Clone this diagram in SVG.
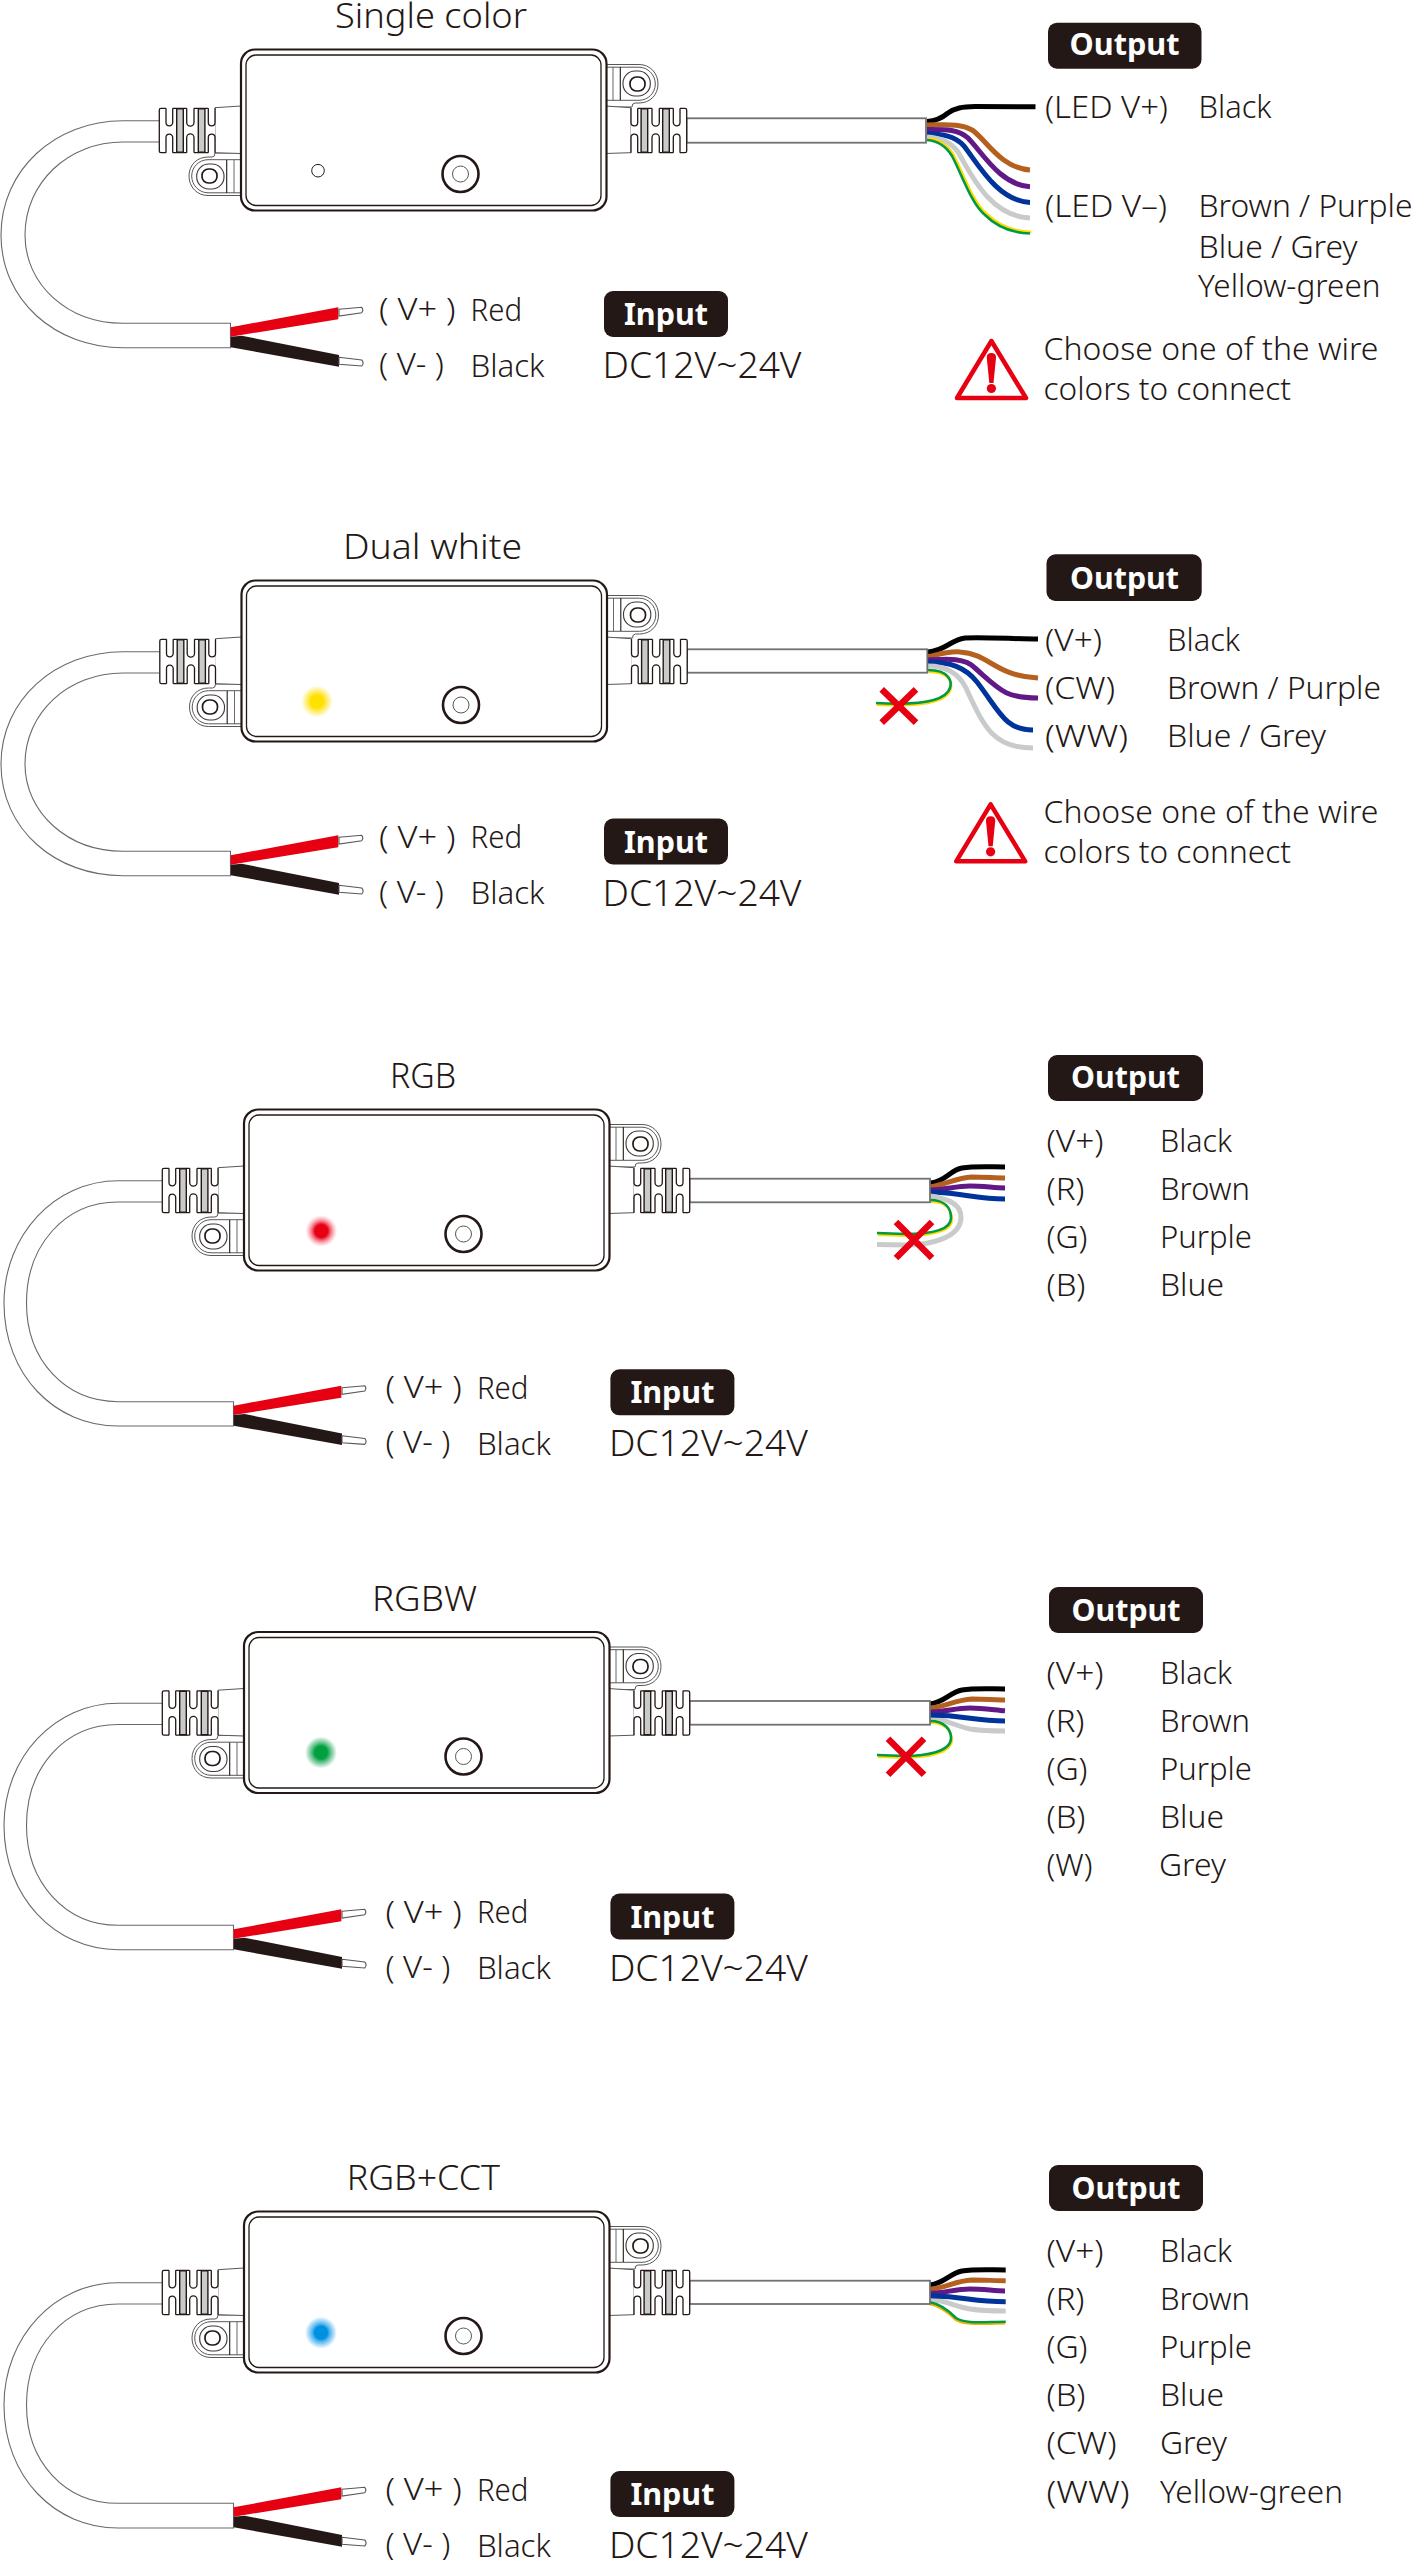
<svg xmlns="http://www.w3.org/2000/svg" xmlns:xlink="http://www.w3.org/1999/xlink" width="1413" height="2560" viewBox="0 0 1413 2560">
<style>
text{font-family:"Noto Sans","Open Sans","Liberation Sans",sans-serif;font-weight:300;fill:#231815;font-size:31px}
.title{font-size:34px}
.dc{font-size:36px}
.badge{fill:#231815}
.bt{font-weight:700;fill:#fff;font-size:31px}
.cable{fill:#fff;stroke:#6a6a6a;stroke-width:1.1}
.rc{fill:#fff;stroke:#727171;stroke-width:1.8}
.w{fill:none;stroke-width:5}
.th{fill:none;stroke-width:2.6}
.k{stroke:#000}.br{stroke:#b5601f}.pu{stroke:#601986}.bl{stroke:#00349b}.gr{stroke:#c9caca}.gn{stroke:#009944}.ye{stroke:#ffd900}
.x{fill:none;stroke:#e60012;stroke-width:6.5}
.o{fill:none;stroke:#231815;stroke-width:1.3}
.l{fill:none;stroke:#595757;stroke-width:1}
</style>
<defs>
<radialGradient id="gRed"><stop offset="0.4" stop-color="#e60012"/><stop offset="0.55" stop-color="#f2566a"/><stop offset="1" stop-color="#f8a0a8" stop-opacity="0"/></radialGradient>
<radialGradient id="gYel"><stop offset="0.4" stop-color="#ffe100"/><stop offset="0.55" stop-color="#ffe84a"/><stop offset="1" stop-color="#ffe84a" stop-opacity="0"/></radialGradient>
<radialGradient id="gGrn"><stop offset="0.4" stop-color="#00a040"/><stop offset="0.55" stop-color="#4ab878"/><stop offset="1" stop-color="#4ab878" stop-opacity="0"/></radialGradient>
<radialGradient id="gBlu"><stop offset="0.4" stop-color="#0090e0"/><stop offset="0.55" stop-color="#50b5f0"/><stop offset="1" stop-color="#50b5f0" stop-opacity="0"/></radialGradient>
<g id="gland">
<path d="M215 107.7 L241 106 V153.5 L215 152.7 Z" fill="#fff" stroke="#595757" stroke-width="1"/>
<rect x="159.3" y="108.3" width="56" height="44.4" rx="2" fill="#fff"/>
<path class="o" d="M166 108.3 H161 Q159.3 108.3 159.3 110 V151 Q159.3 152.7 161 152.7 H166 M172.7 108.3 H186.7 M194 108.3 H208.3 M172.7 152.7 H186.7 M194 152.7 H208.3"/>
<path class="o" d="M166 108.3 V122.5 A3.35 3.35 0 0 0 172.7 122.5 V108.3 M186.7 108.3 V122.5 A3.65 3.65 0 0 0 194 122.5 V108.3 M208.3 108.3 V122.5 A3.35 3.35 0 0 0 215 122.5 V108.3"/>
<path class="o" d="M166 152.7 V137.5 A3.35 3.35 0 0 1 172.7 137.5 V152.7 M186.7 152.7 V137.5 A3.65 3.65 0 0 1 194 137.5 V152.7 M208.3 152.7 V137.5 A3.35 3.35 0 0 1 215 137.5 V152.7"/>
<rect x="176.7" y="108.8" width="6.6" height="43.4" fill="#c9caca" stroke="#231815" stroke-width="1.4"/>
<rect x="198.3" y="108.8" width="6.6" height="43.4" fill="#c9caca" stroke="#231815" stroke-width="1.4"/>
</g>
<g id="ear">
<path d="M241 195.5 H208 C197 195.5 189 187 189 176 C189 165 197 157 208 157 L212 157 Q215 157 215 153 H241 Z" fill="#fff" stroke="#595757" stroke-width="1"/>
<path class="l" d="M241 192.8 H208 C199 192.8 191.7 185 191.7 176 C191.7 167 199 159.7 208 159.7 H241"/>
<rect x="196.7" y="164" width="27.3" height="25" rx="12" fill="none" stroke="#3e3a39" stroke-width="1.1"/>
<rect x="202" y="169" width="15" height="14" rx="6.5" fill="none" stroke="#231815" stroke-width="1.7"/>
<path d="M226.7 160 V193" stroke="#231815" stroke-width="1.1"/>
<path d="M234 160 V193" stroke="#595757" stroke-width="0.9"/>
</g>
<g id="controller">
<use href="#ear"/>
<use href="#ear" transform="rotate(180 423.5 130)"/>
<use href="#gland"/>
<use href="#gland" transform="matrix(-1 0 0 1 846 0)"/>
<rect x="241" y="49.5" width="365.5" height="161" rx="14" fill="#fff" stroke="#231815" stroke-width="2.2"/>
<rect x="246" y="55" width="355" height="150.5" rx="10" fill="#fff" stroke="#231815" stroke-width="1.3"/>
<circle cx="460.5" cy="174" r="18" fill="#fff" stroke="#231815" stroke-width="2.6"/>
<circle cx="460.5" cy="174" r="8" fill="#fff" stroke="#595757" stroke-width="1"/>
</g>
<g id="leads">
<path d="M230.7 327.3 L338.3 307.3 V319.3 L230.7 336.7 Z" fill="#e60012"/>
<path d="M230.7 336.7 L241.7 335.7 L339 355 V366.7 L230.7 347.3 Z" fill="#231815"/>
<path d="M339 309.3 L361.7 307.3 Q364 310 361.7 312.7 L339 316 Z" fill="#fff" stroke="#595757" stroke-width="1.1"/>
<path d="M339 357.3 L361.7 360 Q364.5 363 361.7 366 L339 364.3 Z" fill="#fff" stroke="#595757" stroke-width="1.1"/>
</g>
</defs>
<rect width="1413" height="2560" fill="#fff"/>

<g id="connectors">
<g id="cables-input">
<path class="cable" d="M159 120.7 H123 C55 120.7 1 170 1 235 C1 300 55 347.7 123 347.7 H230.5 V323.3 H123 C68 323.3 25 285 25 235 C25 183 68 142 123 142 H159"/>
<path class="cable" d="M159 651.7 H123 C55 651.7 1 700 1 764 C1 829 55 875.7 123 875.7 H230.5 V851.3 H123 C68 851.3 25 813 25 764 C25 713 68 673 123 673 H159"/>
<path class="cable" d="M162 1180.7 H118 C55 1180.7 4 1235 4 1303 C4 1375 55 1426 118 1426 H233.5 V1401.7 H118 C65 1401.7 26.5 1360 26.5 1303 C26.5 1245 65 1202 118 1202 H162"/>
<path class="cable" d="M162 1703.2 H118 C55 1703.2 4 1757 4 1825.5 C4 1897 55 1949.7 118 1949.7 H233.5 V1925.3 H118 C65 1925.3 26.5 1882 26.5 1825.5 C26.5 1767 65 1724.5 118 1724.5 H162"/>
<path class="cable" d="M162 2282.7 H118 C55 2282.7 4 2337 4 2405 C4 2477 55 2528 118 2528 H233.5 V2503.3 H118 C65 2503.3 26.5 2462 26.5 2405 C26.5 2347 65 2304 118 2304 H162"/>
<use href="#leads"/>
<use href="#leads" transform="translate(0 528)"/>
<use href="#leads" transform="translate(3 1078.4)"/>
<use href="#leads" transform="translate(3 1602)"/>
<use href="#leads" transform="translate(3 2180)"/>
</g>
<g id="wires-single">
<path class="w k" d="M927 121.5 C936 121 942 118 948 113 C955 108 962 106.7 975 106.5 L1035.5 106.7"/>
<path class="w br" d="M927 125 C945 125 960 123 972 130 C985 138 1000 168 1030 170"/>
<path class="w pu" d="M927 129.5 C945 129.5 958 129 968 138 C982 152 1000 185 1030 186.7"/>
<path class="w bl" d="M927 133.5 C942 134 955 136 964 146 C978 164 998 201 1030 202.5"/>
<path class="w gr" d="M927 137 C940 138 950 141 958 152 C972 176 990 216 1030 218"/>
<path class="th ye" transform="translate(1.3 -1.5)" d="M927 140 C938 141 946 146 952 156 C962 175 972 205 985 215 C998 228 1012 233 1030 233.5"/>
<path class="th gn" d="M927 140 C938 141 946 146 952 156 C962 175 972 205 985 215 C998 228 1012 233 1030 233.5"/>
<rect class="rc" x="686.5" y="118.3" width="239.5" height="24.4"/>
</g>
<g id="wires-dual">
<path class="w k" d="M928 652 C945 651 950 640 965 638 C985 637 1015 639 1038 639"/>
<path class="w br" d="M928 657 C940 654 950 651 960 652 C990 654 995 676 1038 678"/>
<path class="w pu" d="M928 660 C945 659 965 657 975 668 C1000 690 1005 698 1038 698"/>
<path class="w bl" d="M928 662 C950 662 965 667 977 682 C1000 712 1005 730 1033 730"/>
<path class="w gr" d="M928 666 C945 666 958 672 966 688 C985 730 995 748 1033 748"/>
<path class="th ye" transform="translate(0.5 1.6)" d="M928 670 C950 670 952 682 950 688 C945 703 910 705 876 703"/>
<path class="th gn" d="M928 670 C950 670 952 682 950 688 C945 703 910 705 876 703"/>
<rect class="rc" x="687" y="649.3" width="240.3" height="23.4"/>
<path class="x" d="M881.7 689.3 L916 722.7 M916 689.3 L881.7 722.7"/>
</g>
<g id="wires-rgb">
<path class="w k" d="M930 1183 C945 1182 950 1170 962 1168 C975 1166 990 1167 1005 1167"/>
<path class="w br" d="M930 1187 C948 1184 955 1178 972 1177 C985 1177 995 1178 1005 1178"/>
<path class="w pu" d="M930 1190 C945 1190 955 1186 970 1186 C983 1186 995 1188 1005 1188"/>
<path class="w bl" d="M930 1192 C945 1192 955 1194 970 1196 C983 1198 995 1199 1005 1199"/>
<path class="w gr" d="M930 1196 C945 1198 961 1203 961 1217 C961 1238 930 1245 905 1245 L877 1244.5"/>
<path class="th ye" transform="translate(0.8 1.6)" d="M930 1200 C945 1200 951 1208 951 1218 C951 1232 925 1234 905 1234 L877 1233"/>
<path class="th gn" d="M930 1200 C945 1200 951 1208 951 1218 C951 1232 925 1234 905 1234 L877 1233"/>
<rect class="rc" x="689.5" y="1178.7" width="240.5" height="23.6"/>
<path class="x" d="M896 1222 L932 1258 M932 1222 L896 1258"/>
</g>
<g id="wires-rgbw">
<path class="w k" d="M930 1704 C945 1702 950 1692 962 1690 C975 1688 990 1689 1005 1689"/>
<path class="w br" d="M930 1708 C948 1706 955 1700 972 1699 C985 1699 995 1700 1005 1700"/>
<path class="w pu" d="M930 1712 C945 1712 955 1708 970 1708 C983 1708 995 1710 1005 1710.7"/>
<path class="w gr" d="M930 1718 C945 1719 955 1726 970 1729 C983 1731 995 1731 1005 1731"/>
<path class="w bl" d="M930 1715 C945 1715 955 1716 968 1718 C983 1720 995 1721 1005 1721"/>
<path class="th ye" transform="translate(0.8 1.6)" d="M930 1721 C945 1721 951 1730 951 1738 C951 1752 925 1756 905 1756 L877 1755"/>
<path class="th gn" d="M930 1721 C945 1721 951 1730 951 1738 C951 1752 925 1756 905 1756 L877 1755"/>
<rect class="rc" x="689.5" y="1701" width="240.5" height="23.7"/>
<path class="x" d="M888 1738.7 L924 1774.7 M924 1738.7 L888 1774.7"/>
</g>
<g id="wires-rgbcct">
<path class="w k" d="M930 2285 C945 2283 950 2273 962 2271 C975 2269 990 2270 1005.7 2270"/>
<path class="w br" d="M930 2289.3 C948 2287 955 2281 972 2280 C985 2280 995 2280.7 1005.7 2280.7"/>
<path class="w pu" d="M930 2293.3 C945 2293 955 2289 970 2289 C983 2289 995 2291 1005 2291"/>
<path class="w gr" d="M930 2299.3 C945 2300 955 2307 970 2309 C983 2311 995 2311 1005.7 2311"/>
<path class="w bl" d="M930 2295.7 C945 2296 955 2297 968 2299 C983 2301 995 2301.7 1005.7 2301.7"/>
<path class="th" style="stroke:#f5b400" transform="translate(-0.4 1.6)" d="M930 2302.3 C940 2304 948 2310 956 2318 C966 2324 980 2322 1005.7 2321.7"/>
<path class="th gn" d="M930 2302.3 C940 2304 948 2310 956 2318 C966 2324 980 2322 1005.7 2321.7"/>
<rect class="rc" x="689.5" y="2280.7" width="240.5" height="23.3"/>
</g>
</g>

<g id="node-single">
<text class="title" x="335" y="27.5" textLength="192" lengthAdjust="spacingAndGlyphs">Single color</text>
<use href="#controller"/>
<circle cx="318" cy="170.7" r="6.3" fill="#fff" stroke="#231815" stroke-width="1"/>
</g>
<g id="input-single">
<text x="379" y="320" textLength="76.5" lengthAdjust="spacingAndGlyphs">( V+ )</text>
<text x="470.5" y="320.5" textLength="51.5" lengthAdjust="spacingAndGlyphs">Red</text>
<text x="379" y="375" textLength="65" lengthAdjust="spacingAndGlyphs">( V- )</text>
<text x="470.5" y="376.5" textLength="74" lengthAdjust="spacingAndGlyphs">Black</text>
<rect class="badge" x="604" y="291" width="124" height="46" rx="9"/>
<text class="bt" x="624" y="325" textLength="84" lengthAdjust="spacingAndGlyphs">Input</text>
<text class="dc" x="602.5" y="378" textLength="199" lengthAdjust="spacingAndGlyphs">DC12V~24V</text>
</g>
<g id="output-single">
<rect class="badge" x="1048" y="22.7" width="153.5" height="46" rx="9"/>
<text class="bt" x="1069.5" y="55" textLength="110" lengthAdjust="spacingAndGlyphs">Output</text>
<text x="1045" y="118" textLength="123" lengthAdjust="spacingAndGlyphs">(LED V+)</text>
<text x="1198.5" y="118" textLength="73" lengthAdjust="spacingAndGlyphs">Black</text>
<text x="1045" y="217" textLength="122" lengthAdjust="spacingAndGlyphs">(LED V–)</text>
<text x="1198.5" y="217" textLength="214" lengthAdjust="spacingAndGlyphs">Brown / Purple</text>
<text x="1198.5" y="257.5" textLength="159" lengthAdjust="spacingAndGlyphs">Blue / Grey</text>
<text x="1198" y="297" textLength="182.5" lengthAdjust="spacingAndGlyphs">Yellow-green</text>
</g>
<g id="warning-single">
<path d="M991.4 341 L1026 398 H957 Z" fill="#fff" stroke="#e60012" stroke-width="4.5" stroke-linejoin="round"/>
<path d="M986.8 358 Q986.5 353 991.4 353 Q996.3 353 996 358 L993.5 383 H989.3 Z" fill="#e60012"/>
<circle cx="991.4" cy="388.5" r="4.6" fill="#e60012"/>
<text x="1043.5" y="360" textLength="335" lengthAdjust="spacingAndGlyphs">Choose one of the wire</text>
<text x="1043.5" y="400" textLength="247.5" lengthAdjust="spacingAndGlyphs">colors to connect</text>
</g>

<g id="node-dual">
<text class="title" x="343" y="559" textLength="179" lengthAdjust="spacingAndGlyphs">Dual white</text>
<use href="#controller" transform="translate(0.5 531)"/>
<circle cx="317" cy="701.5" r="16" fill="url(#gYel)"/>
</g>
<g id="input-dual" transform="translate(0 527.5)">
<text x="379" y="320" textLength="76.5" lengthAdjust="spacingAndGlyphs">( V+ )</text>
<text x="470.5" y="320.5" textLength="51.5" lengthAdjust="spacingAndGlyphs">Red</text>
<text x="379" y="375" textLength="65" lengthAdjust="spacingAndGlyphs">( V- )</text>
<text x="470.5" y="376.5" textLength="74" lengthAdjust="spacingAndGlyphs">Black</text>
<rect class="badge" x="604" y="291" width="124" height="46" rx="9"/>
<text class="bt" x="624" y="325" textLength="84" lengthAdjust="spacingAndGlyphs">Input</text>
<text class="dc" x="602.5" y="378" textLength="199" lengthAdjust="spacingAndGlyphs">DC12V~24V</text>
</g>
<g id="output-dual">
<rect class="badge" x="1046.5" y="554.3" width="155.2" height="46.7" rx="9"/>
<text class="bt" x="1070" y="589" textLength="109" lengthAdjust="spacingAndGlyphs">Output</text>
<text x="1045" y="651" textLength="57" lengthAdjust="spacingAndGlyphs">(V+)</text>
<text x="1167" y="651" textLength="73" lengthAdjust="spacingAndGlyphs">Black</text>
<text x="1045" y="699.3" textLength="70" lengthAdjust="spacingAndGlyphs">(CW)</text>
<text x="1167" y="699.3" textLength="214" lengthAdjust="spacingAndGlyphs">Brown / Purple</text>
<text x="1045" y="747.3" textLength="83" lengthAdjust="spacingAndGlyphs">(WW)</text>
<text x="1167" y="747.3" textLength="159" lengthAdjust="spacingAndGlyphs">Blue / Grey</text>
</g>
<g id="warning-dual">
<g transform="translate(-0.8 463.3)">
<path d="M991.4 341 L1026 398 H957 Z" fill="#fff" stroke="#e60012" stroke-width="4.5" stroke-linejoin="round"/>
<path d="M986.8 358 Q986.5 353 991.4 353 Q996.3 353 996 358 L993.5 383 H989.3 Z" fill="#e60012"/>
<circle cx="991.4" cy="388.5" r="4.6" fill="#e60012"/>
<text x="1044.3" y="360" textLength="335" lengthAdjust="spacingAndGlyphs">Choose one of the wire</text>
<text x="1044.3" y="399.4" textLength="247.5" lengthAdjust="spacingAndGlyphs">colors to connect</text>
</g>
</g>

<g id="node-rgb">
<text class="title" x="390" y="1088.3" textLength="66" lengthAdjust="spacingAndGlyphs">RGB</text>
<use href="#controller" transform="translate(3 1060)"/>
<circle cx="321.3" cy="1231" r="16" fill="url(#gRed)"/>
</g>
<g id="input-rgb" transform="translate(6.4 1078.3)">
<text x="379" y="320" textLength="76.5" lengthAdjust="spacingAndGlyphs">( V+ )</text>
<text x="470.5" y="320.5" textLength="51.5" lengthAdjust="spacingAndGlyphs">Red</text>
<text x="379" y="375" textLength="65" lengthAdjust="spacingAndGlyphs">( V- )</text>
<text x="470.5" y="376.5" textLength="74" lengthAdjust="spacingAndGlyphs">Black</text>
<rect class="badge" x="604" y="291" width="124" height="46" rx="9"/>
<text class="bt" x="624" y="325" textLength="84" lengthAdjust="spacingAndGlyphs">Input</text>
<text class="dc" x="602.5" y="378" textLength="199" lengthAdjust="spacingAndGlyphs">DC12V~24V</text>
</g>
<g id="output-rgb">
<rect class="badge" x="1048" y="1055" width="155" height="46" rx="9"/>
<text class="bt" x="1071" y="1088" textLength="109" lengthAdjust="spacingAndGlyphs">Output</text>
<text x="1046.5" y="1151.5" textLength="57" lengthAdjust="spacingAndGlyphs">(V+)</text><text x="1160" y="1151.5" textLength="72" lengthAdjust="spacingAndGlyphs">Black</text>
<text x="1046.5" y="1199.5" textLength="38" lengthAdjust="spacingAndGlyphs">(R)</text><text x="1160" y="1199.5" textLength="90" lengthAdjust="spacingAndGlyphs">Brown</text>
<text x="1046.5" y="1247.5" textLength="41" lengthAdjust="spacingAndGlyphs">(G)</text><text x="1160" y="1247.5" textLength="92" lengthAdjust="spacingAndGlyphs">Purple</text>
<text x="1046.5" y="1295.5" textLength="39" lengthAdjust="spacingAndGlyphs">(B)</text><text x="1160" y="1295.5" textLength="64" lengthAdjust="spacingAndGlyphs">Blue</text>
</g>

<g id="node-rgbw">
<text class="title" x="372" y="1611" textLength="105" lengthAdjust="spacingAndGlyphs">RGBW</text>
<use href="#controller" transform="translate(3 1582.5)"/>
<circle cx="321" cy="1752.5" r="16" fill="url(#gGrn)"/>
</g>
<g id="input-rgbw" transform="translate(6.4 1602.5)">
<text x="379" y="320" textLength="76.5" lengthAdjust="spacingAndGlyphs">( V+ )</text>
<text x="470.5" y="320.5" textLength="51.5" lengthAdjust="spacingAndGlyphs">Red</text>
<text x="379" y="375" textLength="65" lengthAdjust="spacingAndGlyphs">( V- )</text>
<text x="470.5" y="376.5" textLength="74" lengthAdjust="spacingAndGlyphs">Black</text>
<rect class="badge" x="604" y="291" width="124" height="46" rx="9"/>
<text class="bt" x="624" y="325" textLength="84" lengthAdjust="spacingAndGlyphs">Input</text>
<text class="dc" x="602.5" y="378" textLength="199" lengthAdjust="spacingAndGlyphs">DC12V~24V</text>
</g>
<g id="output-rgbw">
<rect class="badge" x="1049" y="1587" width="154" height="46" rx="9"/>
<text class="bt" x="1071.5" y="1620.5" textLength="109" lengthAdjust="spacingAndGlyphs">Output</text>
<text x="1046.5" y="1683.5" textLength="57" lengthAdjust="spacingAndGlyphs">(V+)</text><text x="1160" y="1683.5" textLength="72" lengthAdjust="spacingAndGlyphs">Black</text>
<text x="1046.5" y="1731.5" textLength="38" lengthAdjust="spacingAndGlyphs">(R)</text><text x="1160" y="1731.5" textLength="90" lengthAdjust="spacingAndGlyphs">Brown</text>
<text x="1046.5" y="1779.5" textLength="41" lengthAdjust="spacingAndGlyphs">(G)</text><text x="1160" y="1779.5" textLength="92" lengthAdjust="spacingAndGlyphs">Purple</text>
<text x="1046.5" y="1827.5" textLength="39" lengthAdjust="spacingAndGlyphs">(B)</text><text x="1160" y="1827.5" textLength="64" lengthAdjust="spacingAndGlyphs">Blue</text>
<text x="1046.5" y="1875.5" textLength="46" lengthAdjust="spacingAndGlyphs">(W)</text><text x="1159" y="1875.5" textLength="67" lengthAdjust="spacingAndGlyphs">Grey</text>
</g>

<g id="node-rgbcct">
<text class="title" x="346.7" y="2190" textLength="153.3" lengthAdjust="spacingAndGlyphs">RGB+CCT</text>
<use href="#controller" transform="translate(3 2162)"/>
<circle cx="321" cy="2332.7" r="16" fill="url(#gBlu)"/>
</g>
<g id="input-rgbcct" transform="translate(6.4 2180)">
<text x="379" y="320" textLength="76.5" lengthAdjust="spacingAndGlyphs">( V+ )</text>
<text x="470.5" y="320.5" textLength="51.5" lengthAdjust="spacingAndGlyphs">Red</text>
<text x="379" y="375" textLength="65" lengthAdjust="spacingAndGlyphs">( V- )</text>
<text x="470.5" y="376.5" textLength="74" lengthAdjust="spacingAndGlyphs">Black</text>
<rect class="badge" x="604" y="291" width="124" height="46" rx="9"/>
<text class="bt" x="624" y="325" textLength="84" lengthAdjust="spacingAndGlyphs">Input</text>
<text class="dc" x="602.5" y="378" textLength="199" lengthAdjust="spacingAndGlyphs">DC12V~24V</text>
</g>
<g id="output-rgbcct">
<rect class="badge" x="1049" y="2165" width="154" height="46" rx="9"/>
<text class="bt" x="1071.5" y="2198.5" textLength="109" lengthAdjust="spacingAndGlyphs">Output</text>
<text x="1046.5" y="2261.5" textLength="57" lengthAdjust="spacingAndGlyphs">(V+)</text><text x="1160" y="2261.5" textLength="72" lengthAdjust="spacingAndGlyphs">Black</text>
<text x="1046.5" y="2309.5" textLength="38" lengthAdjust="spacingAndGlyphs">(R)</text><text x="1160" y="2309.5" textLength="90" lengthAdjust="spacingAndGlyphs">Brown</text>
<text x="1046.5" y="2357.5" textLength="41" lengthAdjust="spacingAndGlyphs">(G)</text><text x="1160" y="2357.5" textLength="92" lengthAdjust="spacingAndGlyphs">Purple</text>
<text x="1046.5" y="2405.5" textLength="39" lengthAdjust="spacingAndGlyphs">(B)</text><text x="1160" y="2405.5" textLength="64" lengthAdjust="spacingAndGlyphs">Blue</text>
<text x="1046.5" y="2453.5" textLength="70" lengthAdjust="spacingAndGlyphs">(CW)</text><text x="1160" y="2453.5" textLength="67" lengthAdjust="spacingAndGlyphs">Grey</text>
<text x="1046.5" y="2502.5" textLength="83" lengthAdjust="spacingAndGlyphs">(WW)</text><text x="1160" y="2502.5" textLength="183" lengthAdjust="spacingAndGlyphs">Yellow-green</text>
</g>
</svg>
